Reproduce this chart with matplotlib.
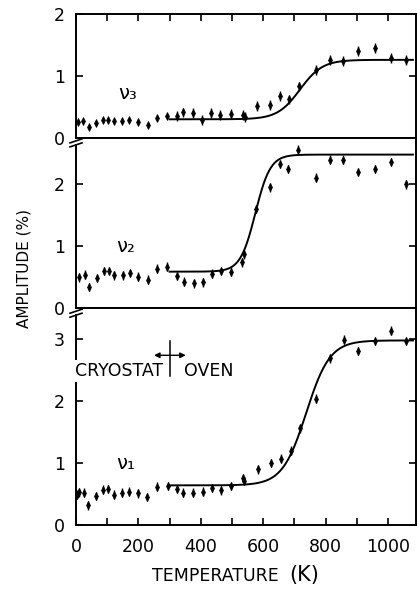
import numpy as np
import matplotlib
matplotlib.use("Agg")
import matplotlib.pyplot as plt
from matplotlib.lines import Line2D

plt.rcParams['font.family'] = ['DejaVu Sans']

# ---------------- data ----------------
# nu_3 (top panel)
T3 = [7, 23, 42, 64, 88, 104, 122, 147, 171, 200, 230, 259, 293,
      323, 344, 376, 405, 433, 462, 496, 534, 543, 581, 622, 654, 684, 716,
      769, 815, 857, 905, 958, 1009, 1057]
A3 = [0.26, 0.28, 0.17, 0.24, 0.29, 0.29, 0.27, 0.28, 0.29, 0.26, 0.21, 0.32, 0.35,
      0.36, 0.41, 0.40, 0.29, 0.40, 0.37, 0.38, 0.37, 0.33, 0.51, 0.53, 0.68, 0.62, 0.83,
      1.09, 1.26, 1.24, 1.40, 1.45, 1.29, 1.26]
E3 = [0.0] * 13 + [0.08] * 21

# nu_2 (middle panel)
T2 = [10, 29, 43, 66, 90, 106, 123, 152, 173, 200, 232, 261, 293, 325, 346, 378,
      406, 435, 465, 497, 533, 540, 577, 622, 654, 681, 713, 769, 815, 857, 905,
      958, 1009, 1057]
A2 = [0.50, 0.54, 0.34, 0.49, 0.60, 0.60, 0.53, 0.53, 0.57, 0.51, 0.46, 0.64, 0.67,
      0.52, 0.43, 0.40, 0.42, 0.56, 0.60, 0.59, 0.74, 0.87, 1.60, 1.95, 2.33, 2.25,
      2.56, 2.11, 2.40, 2.40, 2.20, 2.25, 2.36, 2.00]
E2 = [0.07] * len(T2)

# nu_1 (bottom panel)
T1 = [4, 10, 26, 39, 63, 85, 104, 122, 149, 171, 200, 229, 259, 294, 325, 344, 376,
      406, 435, 464, 497, 536, 539, 584, 624, 656, 688, 718, 771, 814, 859, 905, 958,
      1010, 1057]
A1 = [0.49, 0.53, 0.52, 0.32, 0.47, 0.57, 0.58, 0.49, 0.52, 0.54, 0.51, 0.45, 0.62,
      0.63, 0.58, 0.52, 0.52, 0.54, 0.60, 0.56, 0.63, 0.76, 0.71, 0.90, 1.00, 1.07,
      1.20, 1.56, 2.04, 2.69, 2.99, 2.81, 2.97, 3.14, 2.97]
E1 = [0.07] * len(T1)

# fitted step curves (low plateau, high plateau, centre K, width K)
FIT3 = [0.30, 1.26, 718, 36]
FIT2 = [0.59, 2.48, 575, 24]
FIT1 = [0.64, 2.98, 738, 38]
FIT_RANGE = [300, 1080]

YMAX = [2.0, 2.75, 3.5]
YTICKS = [[0, 1, 2], [0, 1, 2], [0, 1, 2, 3]]
LABELS = ['ν\u2083', 'ν\u2082', 'ν\u2081']
XTICKLABELS = [0, 200, 400, 600, 800, 1000]

# ---------------- figure ----------------
W, H = 417, 589
fig = plt.figure(figsize=(W / 100, H / 100), dpi=100)

left, right = 76 / W, 416 / W
bot_px, top_px = 525, 14
tot = sum(YMAX)
ppu = (bot_px - top_px) / tot

axes = []
y_cursor = top_px
for ym in YMAX:
    h = ym * ppu
    ax = fig.add_axes([left, 1 - (y_cursor + h) / H, right - left, h / H])
    axes.append(ax)
    y_cursor += h

datasets = [(T3, A3, E3, FIT3), (T2, A2, E2, FIT2), (T1, A1, E1, FIT1)]
label_pos = [(165, 0.72), (160, 1.0), (160, 1.0)]

for i, (ax, (T, A, E, fit)) in enumerate(zip(axes, datasets)):
    ax.set_xlim(0, 1090)
    ax.set_ylim(0, YMAX[i])
    T = np.array(T); A = np.array(A); E = np.array(E)
    ax.errorbar(T, A, yerr=E, fmt='d', color='black', ms=3.6, mew=0.5,
                elinewidth=1.0, capsize=0)
    lo, hi, c, w = fit
    tt = np.linspace(FIT_RANGE[0], FIT_RANGE[1], 400)
    ax.plot(tt, lo + (hi - lo) / (1 + np.exp(-(tt - c) / w)), color='black', lw=1.4)
    for s in ax.spines.values():
        s.set_linewidth(1.4)
    ax.set_yticks(YTICKS[i])
    ax.set_yticklabels([str(v) for v in YTICKS[i]])
    ax.tick_params(axis='y', direction='in', length=5, width=1.2, labelsize=12.5,
                   right=True, pad=8)
    if i == 0:
        ax.set_xticks(np.arange(0, 1100, 100))
        ax.tick_params(axis='x', direction='in', length=5, width=1.2,
                       top=True, bottom=False, labelbottom=False)
    elif i == 2:
        ax.set_xticks(np.arange(0, 1100, 100))
        ax.set_xticklabels([str(v) if v in XTICKLABELS else '' for v in np.arange(0, 1100, 100)])
        ax.tick_params(axis='x', direction='in', length=5, width=1.2, labelsize=12.5,
                       pad=9)
    else:
        ax.set_xticks([])
    ax.text(label_pos[i][0], label_pos[i][1], LABELS[i], fontsize=14, ha='center',
            va='center')

# spine gaps for break marks
gap = 7 / ppu
axes[1].spines['left'].set_bounds(0, YMAX[1] - gap)
axes[2].spines['left'].set_bounds(0, YMAX[2] - gap)

for jy in [top_px + YMAX[0] * ppu, top_px + (YMAX[0] + YMAX[1]) * ppu]:
    for dy in [3, 7]:
        y0 = 1 - (jy + dy + 2) / H
        y1 = 1 - (jy + dy - 2) / H
        fig.add_artist(Line2D([(76 - 6) / W, (76 + 6) / W], [y0, y1], color='black',
                              lw=1.2))

# cryostat / oven annotation
axb = axes[2]
axb.plot([300, 300], [2.40, 2.97], color='black', lw=1.1)
axb.annotate('', xy=(250, 2.74), xytext=(300, 2.74),
             arrowprops=dict(arrowstyle='-|>', color='black', lw=1.0,
                             mutation_scale=8, shrinkA=0, shrinkB=0))
axb.annotate('', xy=(352, 2.74), xytext=(300, 2.74),
             arrowprops=dict(arrowstyle='-|>', color='black', lw=1.0,
                             mutation_scale=8, shrinkA=0, shrinkB=0))
axb.text(-4, 2.48, 'CRYOSTAT', fontsize=12.5, ha='left', va='center', clip_on=False,
         bbox=dict(facecolor='white', edgecolor='none', pad=1.5), zorder=5)
axb.text(345, 2.48, 'OVEN', fontsize=12.5, ha='left', va='center')

# axis labels
fig.text(24 / W, 1 - 268 / H, 'AMPLITUDE (%)', rotation=90, fontsize=11,
         ha='center', va='center')
fig.text(215 / W, 1 - 576 / H, 'TEMPERATURE', fontsize=12.5, ha='center', va='center')
fig.text(304 / W, 1 - 575 / H, '(K)', fontsize=15, ha='center', va='center')

fig.savefig('out.png', dpi=100)
